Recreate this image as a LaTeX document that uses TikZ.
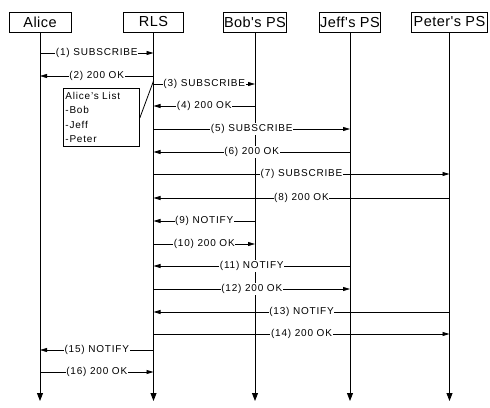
\documentclass[tikz,border=0pt]{standalone}
\usepackage{fontspec}
\setmainfont{Liberation Sans}
\newfontfamily\labfont[LetterSpace=8]{Liberation Sans}
\newfontfamily\headfont[LetterSpace=3]{Liberation Sans}
\usetikzlibrary{arrows.meta}
\begin{document}
\begin{tikzpicture}[x=1pt,y=-1pt,
  head/.style={draw,line width=0.8pt,minimum height=20pt,inner sep=0pt,font=\headfont\fontsize{14.5}{16}\selectfont},
  life/.style={line width=0.9pt,-{Triangle[length=8pt,width=6pt]}},
  msg/.style={line width=0.8pt,-{Triangle[length=7pt,width=4pt]}},
  lbl/.style={fill=white,inner xsep=0.6pt,inner ysep=1pt,font=\labfont\fontsize{10}{12}\selectfont},
  notebox/.style={draw,line width=0.8pt,anchor=north west,align=left,inner sep=2pt,minimum width=76pt,minimum height=58pt,text width=72pt,font=\labfont\fontsize{10}{14.3}\selectfont}]
\useasboundingbox (0,0) rectangle (490,407);
% participants
\node[head,minimum width=62pt] (A) at (40,22) {Alice};
\node[head,minimum width=60pt] (R) at (153.5,22) {RLS};
\node[head,minimum width=63pt] (B) at (255,22) {Bob's PS};
\node[head,minimum width=61pt] (J) at (350,22) {Jeff's PS};
\node[head,minimum width=76pt] (P) at (449.5,22) {Peter's PS};
% lifelines
\foreach \n in {A,R,B,J,P} \draw[life] (\n.south) -- (\n |- 0,401);
% note
\node[notebox] (N) at (63,88) {Alice’s List\\-Bob\\-Jeff\\-Peter};
\draw[line width=0.8pt] (N.east |- 0,118) -- (R |- 0,81);
% messages
\draw[msg] (A |- 0,53) -- node[lbl]{(1) SUBSCRIBE} (R |- 0,53);
\draw[msg] (R |- 0,76) -- node[lbl]{(2) 200 OK} (A |- 0,76);
\draw[msg] (R |- 0,84) -- node[lbl]{(3) SUBSCRIBE} (B |- 0,84);
\draw[msg] (B |- 0,106) -- node[lbl]{(4) 200 OK} (R |- 0,106);
\draw[msg] (R |- 0,129) -- node[lbl]{(5) SUBSCRIBE} (J |- 0,129);
\draw[msg] (J |- 0,152) -- node[lbl]{(6) 200 OK} (R |- 0,152);
\draw[msg] (R |- 0,174) -- node[lbl]{(7) SUBSCRIBE} (P |- 0,174);
\draw[msg] (P |- 0,198) -- node[lbl]{(8) 200 OK} (R |- 0,198);
\draw[msg] (B |- 0,221) -- node[lbl]{(9) NOTIFY} (R |- 0,221);
\draw[msg] (R |- 0,244) -- node[lbl]{(10) 200 OK} (B |- 0,244);
\draw[msg] (J |- 0,266) -- node[lbl]{(11) NOTIFY} (R |- 0,266);
\draw[msg] (R |- 0,289) -- node[lbl]{(12) 200 OK} (J |- 0,289);
\draw[msg] (P |- 0,312) -- node[lbl]{(13) NOTIFY} (R |- 0,312);
\draw[msg] (R |- 0,334) -- node[lbl]{(14) 200 OK} (P |- 0,334);
\draw[msg] (R |- 0,350) -- node[lbl]{(15) NOTIFY} (A |- 0,350);
\draw[msg] (A |- 0,372) -- node[lbl]{(16) 200 OK} (R |- 0,372);
\end{tikzpicture}
\end{document}
